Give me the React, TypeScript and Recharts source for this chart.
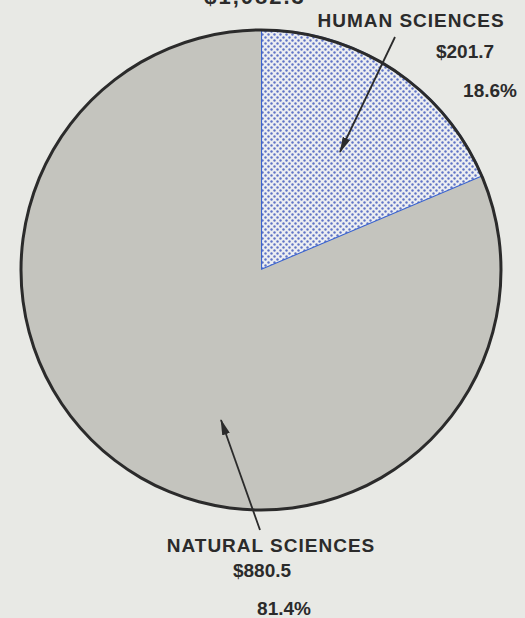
import React from 'react';
import { PieChart, Pie, Cell } from 'recharts';

const categories = ['HUMAN SCIENCES', 'NATURAL SCIENCES'];
const amounts = [201.7, 880.5];
const amountLabels = ['$201.7', '$880.5'];
const percentLabels = ['18.6%', '81.4%'];
const totalLabel = '$1,082.3';

const sliceData = categories.map((name, i) => ({
  name,
  value: amounts[i],
  amount: amountLabels[i],
  pct: percentLabels[i],
}));
const ringData = [{ name: 'TOTAL', value: amounts[0] + amounts[1] }];

const FONT = '"Liberation Sans", Arial, Helvetica, sans-serif';
const INK = '#2b2b2b';

const T = ({ x, y, children, ls = 0, size = 19 }: any) => (
  <text x={x} y={y} textAnchor="middle" fontFamily={FONT} fontWeight={700} fontSize={size} letterSpacing={ls} fill={INK}>{children}</text>
);

const renderLabel = (props: any) => {
  const { cx, cy, index, payload } = props;
  const p = payload && payload.payload ? payload.payload : payload;
  if (index === 0) {
    return (
      <g key="lbl0">
        <line x1={cx + 134} y1={cy - 233} x2={cx + 79} y2={cy - 118} stroke={INK} strokeWidth={1.8} markerEnd="url(#arrowHead)" />
        <T x={cx + 150} y={cy - 243} ls={1}>{p.name}</T>
        <T x={cx + 204} y={cy - 212}>{p.amount}</T>
        <T x={cx + 229} y={cy - 173}>{p.pct}</T>
      </g>
    );
  }
  return (
    <g key="lbl1">
      <line x1={cx - 1} y1={cy + 260} x2={cx - 40} y2={cy + 150} stroke={INK} strokeWidth={1.8} markerEnd="url(#arrowHead)" />
      <T x={cx + 10} y={cy + 282} ls={1}>{p.name}</T>
      <T x={cx + 1} y={cy + 307}>{p.amount}</T>
      <T x={cx + 23} y={cy + 345}>{p.pct}</T>
    </g>
  );
};

const renderTotal = (props: any) => {
  const { cx, cy } = props;
  return (
    <g key="total">
      <T x={cx - 6} y={cy - 266} size={22} ls={2}>{totalLabel}</T>
    </g>
  );
};

export default function App() {
  return (
    <div style={{ position: 'absolute', left: 0, top: 0, width: 525, height: 618, background: '#e8e9e5' }}>
      <PieChart width={525} height={618} margin={{ top: 0, right: 0, bottom: 0, left: 0 }}>
        <defs>
          <pattern id="dots" width={6} height={6} patternUnits="userSpaceOnUse">
            <rect width={6} height={6} fill="#eceef1" />
            <circle cx={1.5} cy={1.5} r={1.2} fill="#5f73c6" />
            <circle cx={4.5} cy={4.5} r={1.2} fill="#5f73c6" />
          </pattern>
          <marker id="arrowHead" viewBox="0 0 16 8" refX={15} refY={4} markerWidth={16} markerHeight={8} markerUnits="userSpaceOnUse" orient="auto">
            <path d="M0,0 L16,4 L0,8 Z" fill={INK} />
          </marker>
        </defs>
        <Pie
          data={sliceData}
          dataKey="value"
          nameKey="name"
          cx={261}
          cy={270}
          outerRadius={240}
          startAngle={90}
          endAngle={-270}
          isAnimationActive={false}
          label={renderLabel}
          labelLine={false}
        >
          <Cell fill="url(#dots)" stroke="#3a63cf" strokeWidth={2.2} />
          <Cell fill="#c4c4be" stroke="none" />
        </Pie>
        <Pie
          data={ringData}
          dataKey="value"
          cx={261}
          cy={270}
          innerRadius={238.5}
          outerRadius={241.5}
          startAngle={90}
          endAngle={-270}
          isAnimationActive={false}
          fill={INK}
          stroke="none"
          label={renderTotal}
          labelLine={false}
        />
      </PieChart>
    </div>
  );
}
